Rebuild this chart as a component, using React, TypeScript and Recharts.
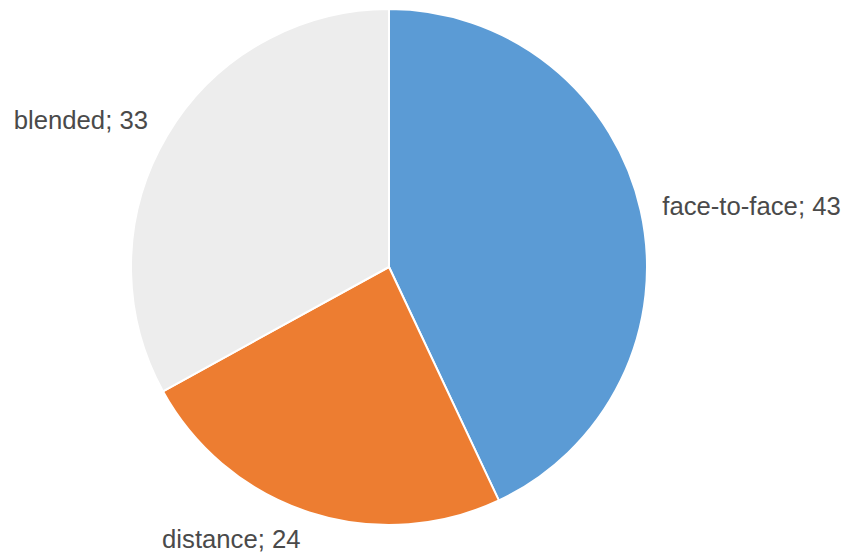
import React from "react";
import { PieChart, Pie, Cell } from "recharts";

const categories = ["face-to-face", "distance", "blended"];
const values = [43, 24, 33];
const colors = ["#5B9BD5", "#ED7D31", "#EDEDED"];

const data = categories.map((name, i) => ({ name, value: values[i] }));

const RAD = Math.PI / 180;

const renderLabel = (props: any) => {
  const { cx, cy, midAngle, outerRadius, name, value } = props;
  const c = Math.cos(-midAngle * RAD);
  const s = Math.sin(-midAngle * RAD);
  const d = 22 + (s > 0.5 ? 6 : 0);
  const x = cx + (outerRadius + d) * c;
  const y = cy + (outerRadius + d) * s - (s < -0.3 ? 4 : 0);
  return (
    <text
      x={x}
      y={y}
      textAnchor={c >= 0 ? "start" : "end"}
      dominantBaseline="central"
      fill="#4a4a4a"
      fontSize={25.7}
      fontFamily="'Liberation Sans', Arial, sans-serif"
    >
      {`${name}; ${value}`}
    </text>
  );
};

export default function App() {
  return (
    <div style={{ position: "absolute", left: 0, top: 0, width: 843, height: 558, background: "#fff" }}>
      <PieChart width={843} height={558} margin={{ top: 0, right: 0, bottom: 0, left: 0 }}>
        <Pie
          data={data}
          dataKey="value"
          nameKey="name"
          cx={389}
          cy={267}
          outerRadius={258}
          startAngle={90}
          endAngle={-270}
          stroke="#ffffff"
          strokeWidth={2}
          label={renderLabel}
          labelLine={false}
          isAnimationActive={false}
        >
          {data.map((d, i) => (
            <Cell key={d.name} fill={colors[i]} />
          ))}
        </Pie>
      </PieChart>
    </div>
  );
}
